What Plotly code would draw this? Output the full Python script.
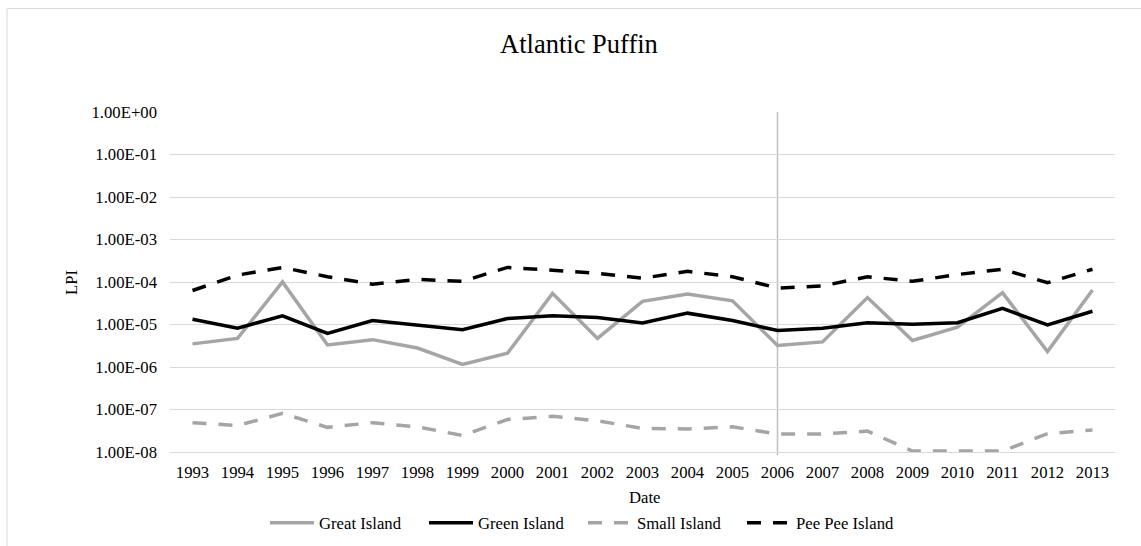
import plotly.graph_objects as go

# Survey years (category axis)
years = [str(y) for y in range(1993, 2014)]

# Living Planet Index per colony
great_island = [3.5e-6, 4.7e-6, 1.0e-4, 3.3e-6, 4.4e-6, 2.8e-6, 1.15e-6, 2.1e-6, 5.4e-5, 4.7e-6,
                3.5e-5, 5.2e-5, 3.6e-5, 3.2e-6, 3.9e-6, 4.3e-5, 4.2e-6, 8.7e-6, 5.6e-5, 2.3e-6, 6.5e-5]
green_island = [1.33e-5, 8.2e-6, 1.6e-5, 6.2e-6, 1.24e-5, 9.5e-6, 7.5e-6, 1.38e-5, 1.6e-5, 1.47e-5,
                1.08e-5, 1.85e-5, 1.24e-5, 7.2e-6, 8.2e-6, 1.1e-5, 1.02e-5, 1.1e-5, 2.4e-5, 9.8e-6, 2.05e-5]
small_island = [4.9e-8, 4.2e-8, 8.1e-8, 3.8e-8, 4.9e-8, 3.9e-8, 2.45e-8, 5.8e-8, 6.9e-8, 5.4e-8,
                3.6e-8, 3.5e-8, 3.9e-8, 2.65e-8, 2.65e-8, 3.1e-8, 1.05e-8, 1.05e-8, 1.05e-8, 2.7e-8, 3.3e-8]
pee_pee_island = [6.3e-5, 1.45e-4, 2.2e-4, 1.33e-4, 8.9e-5, 1.15e-4, 1.04e-4, 2.2e-4, 1.9e-4, 1.6e-4,
                  1.23e-4, 1.78e-4, 1.33e-4, 7.2e-5, 8.1e-5, 1.33e-4, 1.04e-4, 1.5e-4, 2.0e-4, 9.6e-5, 2.0e-4]

# Log-scale tick values and their labels
y_tickvals = [1e-8, 1e-7, 1e-6, 1e-5, 1e-4, 1e-3, 1e-2, 1e-1, 1e0]
y_ticktext = ["1.00E-08", "1.00E-07", "1.00E-06", "1.00E-05", "1.00E-04",
              "1.00E-03", "1.00E-02", "1.00E-01", "1.00E+00"]

marker_year = "2006"

FONT = "Liberation Serif, Times New Roman, serif"
GRAY = "#a5a5a5"
BLACK = "#000000"
GRID = "#d9d9d9"

fig = go.Figure()
series = [
    ("Great Island", great_island, GRAY, "solid"),
    ("Green Island", green_island, BLACK, "solid"),
    ("Small Island", small_island, GRAY, "14px,12px"),
    ("Pee Pee Island", pee_pee_island, BLACK, "14px,12px"),
]
for name, vals, color, dash in series:
    fig.add_trace(go.Scatter(
        x=years, y=vals, name=name, mode="lines",
        line=dict(color=color, width=3.5, dash=dash),
    ))

# Plot area geometry in pixels
W, H = 1141, 546
L, R, T, B = 170, 26, 112, 94
pw, ph = W - L - R, H - T - B


def px_to_paper_x(px):
    return (px - L) / pw


def px_to_paper_y(py):
    return (H - B - py) / ph


marker_idx = years.index(marker_year)

fig.update_layout(
    width=W, height=H,
    margin=dict(l=L, r=R, t=T, b=B, autoexpand=False),
    paper_bgcolor="white", plot_bgcolor="white",
    font=dict(family=FONT, size=16.7, color="#000000"),
    title=dict(text="Atlantic Puffin", x=579 / W, y=1 - 44 / H,
               xanchor="center", yanchor="middle",
               font=dict(family=FONT, size=26.5, color="#000000")),
    showlegend=True,
    legend=dict(orientation="h", x=px_to_paper_x(265), y=px_to_paper_y(523),
                xanchor="left", yanchor="middle", itemwidth=44,
                entrywidth=100, entrywidthmode="pixels",
                font=dict(family=FONT, size=16.7, color="#000000"),
                bgcolor="rgba(0,0,0,0)"),
    xaxis=dict(type="category", categoryorder="array", categoryarray=years,
               range=[-0.5, len(years) - 0.5], autorange=False,
               showgrid=False, showline=True, linecolor=GRID,
               linewidth=1, ticks="", ticklabelstandoff=5,
               tickfont=dict(family=FONT, size=16.7, color="#000000")),
    yaxis=dict(type="log", range=[-8, 0], tickvals=y_tickvals, ticktext=y_ticktext,
               showgrid=True, gridcolor=GRID, gridwidth=1, showline=False,
               zeroline=False, ticks="", ticklabelstandoff=12,
               tickfont=dict(family=FONT, size=16.7, color="#000000")),
    annotations=[
        dict(text="LPI", xref="paper", yref="paper", x=px_to_paper_x(71),
             y=px_to_paper_y(283), textangle=-90, showarrow=False,
             xanchor="center", yanchor="middle",
             font=dict(family=FONT, size=16.7, color="#000000")),
        dict(text="Date", xref="paper", yref="paper", x=px_to_paper_x(645),
             y=px_to_paper_y(497), showarrow=False,
             xanchor="center", yanchor="middle",
             font=dict(family=FONT, size=16.7, color="#000000")),
    ],
    shapes=[
        dict(type="line", xref="x", yref="paper", x0=marker_idx, x1=marker_idx,
             y0=px_to_paper_y(455), y1=1, line=dict(color="#bfbfbf", width=1.5),
             layer="below"),
        dict(type="rect", xref="paper", yref="paper",
             x0=px_to_paper_x(7), x1=px_to_paper_x(1160),
             y0=px_to_paper_y(560), y1=px_to_paper_y(8.5),
             line=dict(color=GRID, width=1), fillcolor="rgba(0,0,0,0)"),
    ],
)

fig.write_html("out.html")
